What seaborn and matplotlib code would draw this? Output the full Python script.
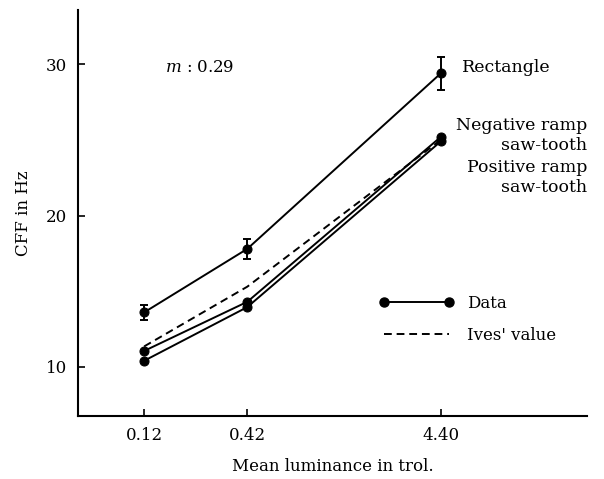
import pandas as pd
import matplotlib.pyplot as plt
import seaborn as sns
from matplotlib.lines import Line2D

sns.set_style("ticks")
plt.rcParams['font.family'] = ['DejaVu Serif']
plt.rcParams['mathtext.fontset'] = 'dejavuserif'
plt.rcParams['text.color'] = 'black'
plt.rcParams['axes.labelcolor'] = 'black'
plt.rcParams['xtick.color'] = 'black'
plt.rcParams['ytick.color'] = 'black'
plt.rcParams['axes.edgecolor'] = 'black'

# luminance levels (trolands)
luminance = [0.12, 0.42, 4.40]
tick_labels = ["0.12", "0.42", "4.40"]

# CFF values
rectangle = [13.6, 17.8, 29.4]
rectangle_err = [0.5, 0.65, 1.1]
negative_ramp = [11.05, 14.3, 25.2]
positive_ramp = [10.4, 13.95, 24.9]
ives_value = [11.35, 15.3, 25.0]

df = pd.DataFrame({
    'luminance': luminance * 3,
    'cff': rectangle + negative_ramp + positive_ramp,
    'series': ['Rectangle'] * 3 + ['Negative'] * 3 + ['Positive'] * 3,
})

fig = plt.figure(figsize=(6.04, 4.79), dpi=100)
ax = fig.add_axes([0.129, 0.1315, 0.843, 0.848])

sns.lineplot(data=df, x='luminance', y='cff', units='series', estimator=None,
             color='black', marker='o', markersize=6.5, linewidth=1.4,
             markeredgecolor='black', ax=ax)
ax.errorbar(luminance, rectangle, yerr=rectangle_err, fmt='none',
            ecolor='black', elinewidth=1.4, capsize=3, capthick=1.4)
sns.lineplot(x=luminance, y=ives_value, color='black', linewidth=1.4,
             linestyle=(0, (4, 2.5)), ax=ax)

ax.set_xscale('log')
ax.set_xlim(0.0537, 26)
ax.set_ylim(6.75, 33.6)
ax.set_xticks(luminance)
ax.set_xticklabels(tick_labels)
ax.minorticks_off()
ax.set_yticks([10, 20, 30])
ax.tick_params(direction='in', length=5, width=1.2, labelsize=12, pad=8)
for s in ['top', 'right']:
    ax.spines[s].set_visible(False)
for s in ['left', 'bottom']:
    ax.spines[s].set_linewidth(1.5)

ax.set_xlabel('Mean luminance in trol.', fontsize=12, labelpad=10)
ax.set_ylabel('CFF in Hz', fontsize=12, labelpad=10)

ax.text(0.171, 0.857, '$m$ : 0.29', transform=ax.transAxes, fontsize=12, va='center')
ax.text(5.7, 29.8, 'Rectangle', fontsize=12.5, va='center')
ax.text(26, 25.3, 'Negative ramp\nsaw-tooth', fontsize=12.5, va='center', ha='right',
        multialignment='right', linespacing=1.2)
ax.text(26, 22.5, 'Positive ramp\nsaw-tooth', fontsize=12.5, va='center', ha='right',
        multialignment='right', linespacing=1.2)

handles = [
    Line2D([], [], color='black', marker='o', markersize=6.5, linewidth=1.4),
    Line2D([], [], color='black', linewidth=1.4, linestyle=(0, (4, 2.5))),
]
ax.legend(handles, ['Data', "Ives' value"], frameon=False, numpoints=2,
          handlelength=4.5, fontsize=12, loc='center left',
          bbox_to_anchor=(0.562, 0.238), labelspacing=0.9)

fig.savefig('out.png', dpi=100)
